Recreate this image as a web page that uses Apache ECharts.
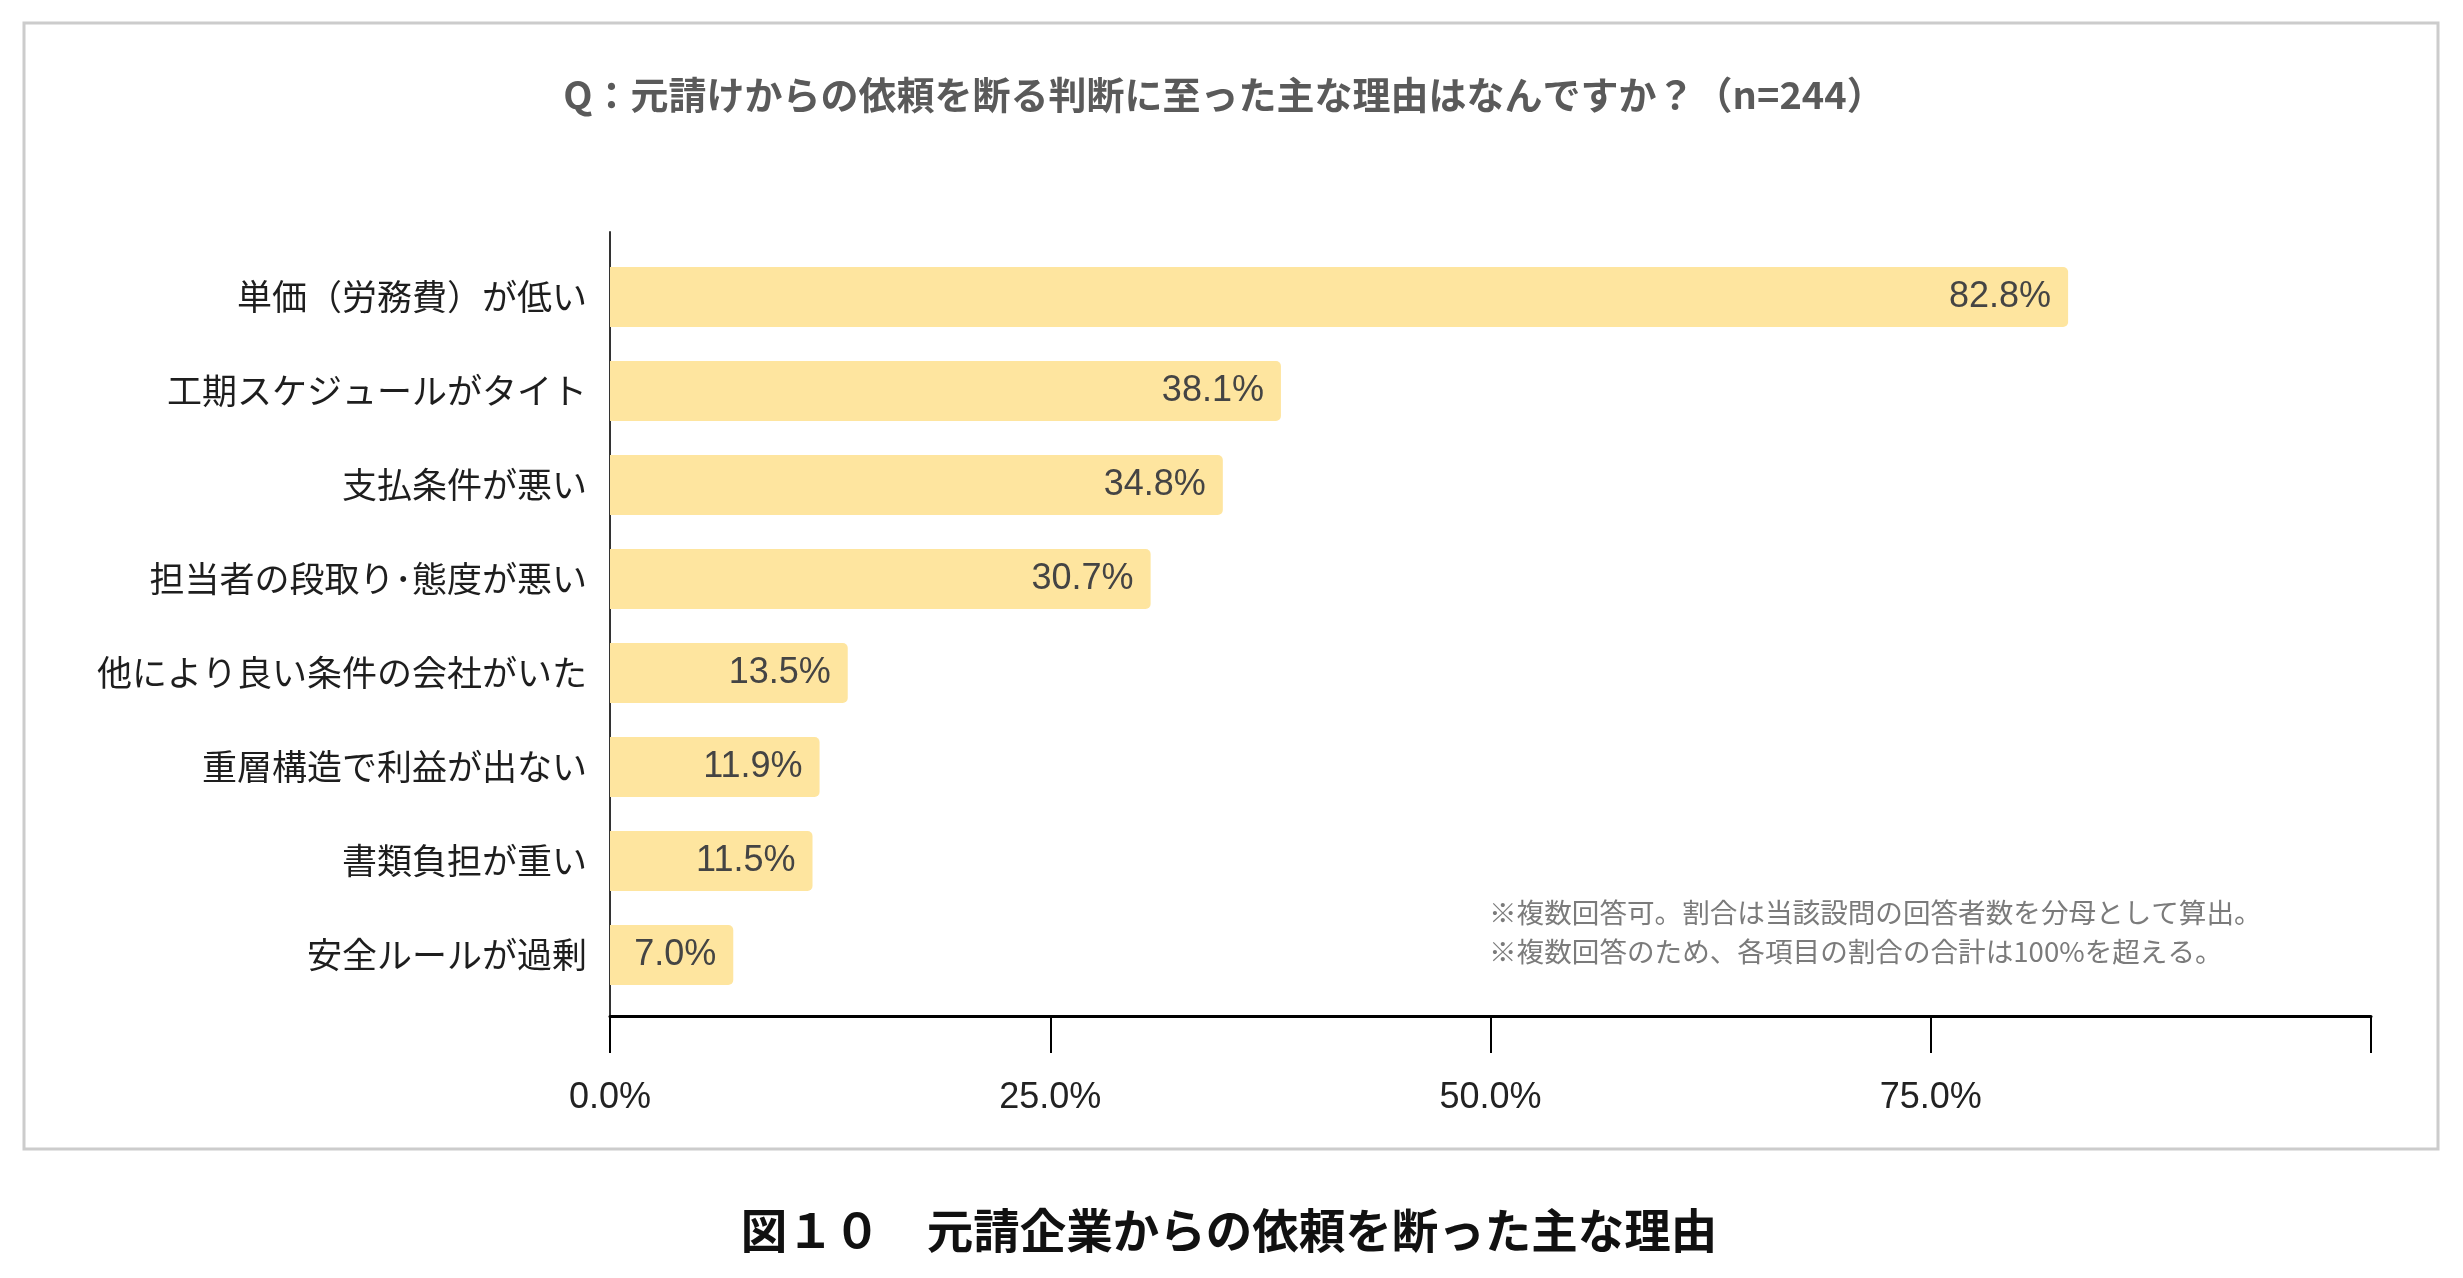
<!DOCTYPE html>
<html>
<head>
<meta charset="utf-8">
<script src="https://cdn.jsdelivr.net/npm/echarts@6/dist/echarts.min.js"></script>
<style>
html,body{margin:0;padding:0;background:#fff;}
#chart{width:2463px;height:1278px;}
</style>
</head>
<body>
<div id="chart"></div>
<script>
const categories = [
  '単価（労務費）が低い',
  '工期スケジュールがタイト',
  '支払条件が悪い',
  '担当者の段取り･態度が悪い',
  '他により良い条件の会社がいた',
  '重層構造で利益が出ない',
  '書類負担が重い',
  '安全ルールが過剰'
];
const values = [82.8, 38.1, 34.8, 30.7, 13.5, 11.9, 11.5, 7.0];
const tickValues = [0, 25, 50, 75, 100];
const tickLabels = ['0.0%', '25.0%', '50.0%', '75.0%', ''];
const titleText = 'Q：元請けからの依頼を断る判断に至った主な理由はなんですか？（n=244）';
const noteLines = [
  '※複数回答可。割合は当該設問の回答者数を分母として算出。',
  '※複数回答のため、各項目の割合の合計は100%を超える。'
];
const captionText = '図１０　元請企業からの依頼を断った主な理由';

const JP = '"Noto Sans CJK JP", "Noto Sans", sans-serif';
const NUM = '"Liberation Sans", Arial, sans-serif';

const chart = echarts.init(document.getElementById('chart'), null, {renderer: 'canvas'});
const option = {
  backgroundColor: '#fff',
  animation: false,
  grid: [
    {left: 610, right: 92, top: 250, bottom: 276, containLabel: false},
    {left: 610, right: 92, top: 232, bottom: 262, containLabel: false}
  ],
  xAxis: [
    {gridIndex: 0, type: 'value', min: 0, max: 100, show: false},
    {
      gridIndex: 1, type: 'value', min: 0, max: 100, interval: 25,
      axisLine: {show: true, lineStyle: {color: '#000', width: 3}},
      axisTick: {show: true, length: 37, lineStyle: {color: '#000', width: 2}},
      splitLine: {show: false},
      axisLabel: {
        margin: 64, fontSize: 36, fontFamily: NUM, color: '#222',
        formatter: function (v) { const i = tickValues.indexOf(v); return i >= 0 ? tickLabels[i] : ''; }
      }
    }
  ],
  yAxis: [
    {
      gridIndex: 0, type: 'category', data: categories, inverse: true,
      axisLine: {show: false}, axisTick: {show: false}, splitLine: {show: false},
      axisLabel: {margin: 23, fontSize: 35, fontFamily: JP, color: '#1e1e1e'}
    },
    {
      gridIndex: 1, type: 'value', min: 0, max: 1,
      axisLine: {show: true, lineStyle: {color: '#333', width: 2}},
      axisTick: {show: false}, axisLabel: {show: false}, splitLine: {show: false}
    }
  ],
  series: [{
    type: 'bar',
    xAxisIndex: 0, yAxisIndex: 0,
    data: values,
    barWidth: 60,
    itemStyle: {color: '#FEE59F', borderRadius: [0, 5, 5, 0]},
    label: {
      show: true, position: 'insideRight', distance: 17,
      fontSize: 36, fontFamily: NUM, color: '#444',
      formatter: function (p) { return p.value.toFixed(1) + '%'; }
    },
    z: 3
  }],
  graphic: [
    {
      type: 'rect', z: -1, silent: true,
      shape: {x: 24, y: 23, width: 2414, height: 1126},
      style: {fill: null, stroke: '#cccccc', lineWidth: 3}
    },
    {
      type: 'text', x: 1224, y: 95,
      style: {text: titleText, textAlign: 'center', textVerticalAlign: 'middle',
              font: 'bold 38px ' + JP, fill: '#5a5a5a'}
    },
    {
      type: 'text', x: 1489, y: 913,
      style: {text: noteLines[0], textAlign: 'left', textVerticalAlign: 'middle',
              font: '27.6px ' + JP, fill: '#7b7b7b'}
    },
    {
      type: 'text', x: 1489, y: 952,
      style: {text: noteLines[1], textAlign: 'left', textVerticalAlign: 'middle',
              font: '27.6px ' + JP, fill: '#7b7b7b'}
    },
    {
      type: 'text', x: 1229, y: 1230,
      style: {text: captionText, textAlign: 'center', textVerticalAlign: 'middle',
              font: 'bold 46.5px ' + JP, fill: '#111'}
    }
  ]
};
chart.setOption(option);
</script>
</body>
</html>
